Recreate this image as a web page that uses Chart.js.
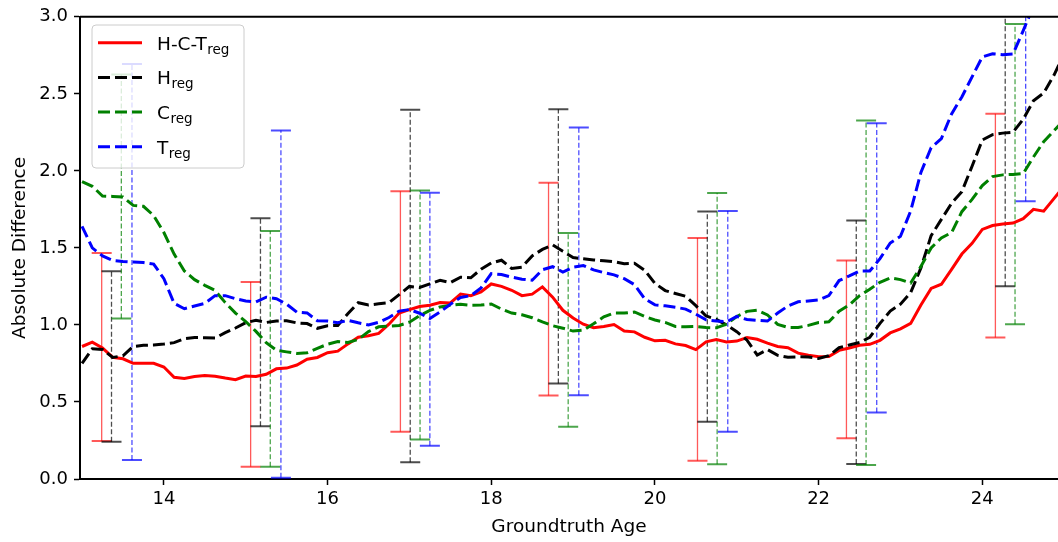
<!DOCTYPE html>
<html lang="en">
  <head>
    <meta charset="UTF-8" />
    <title>Absolute Difference vs Groundtruth Age</title>
    <script src="https://cdn.jsdelivr.net/npm/chart.js"></script>
    <style>
      html, body { margin: 0; padding: 0; background: #fff; }
      canvas { display: block; }
    </style>
  </head>
  <body>
    <canvas id="ageChart" width="1058" height="542"></canvas>
    <script>
      // age grid shared by the four curves
      const ages = [
        13, 13.125, 13.25, 13.375, 13.5, 13.625, 13.75, 13.875,
        14, 14.125, 14.25, 14.375, 14.5, 14.625, 14.75, 14.875,
        15, 15.125, 15.25, 15.375, 15.5, 15.625, 15.75, 15.875,
        16, 16.125, 16.25, 16.375, 16.5, 16.625, 16.75, 16.875,
        17, 17.125, 17.25, 17.375, 17.5, 17.625, 17.75, 17.875,
        18, 18.125, 18.25, 18.375, 18.5, 18.625, 18.75, 18.875,
        19, 19.125, 19.25, 19.375, 19.5, 19.625, 19.75, 19.875,
        20, 20.125, 20.25, 20.375, 20.5, 20.625, 20.75, 20.875,
        21, 21.125, 21.25, 21.375, 21.5, 21.625, 21.75, 21.875,
        22, 22.125, 22.25, 22.375, 22.5, 22.625, 22.75, 22.875,
        23, 23.125, 23.25, 23.375, 23.5, 23.625, 23.75, 23.875,
        24, 24.125, 24.25, 24.375, 24.5, 24.625, 24.75, 24.875, 25
      ];

      const hctReg = [
        0.86, 0.888, 0.85, 0.79, 0.78, 0.751, 0.751, 0.751, 0.727, 0.66,
        0.652, 0.665, 0.672, 0.667, 0.655, 0.645, 0.668, 0.665, 0.68, 0.715,
        0.72, 0.74, 0.777, 0.789, 0.82, 0.83, 0.877, 0.92, 0.93, 0.945,
        1.005, 1.077, 1.099, 1.12, 1.128, 1.145, 1.143, 1.2, 1.19, 1.215,
        1.266, 1.25, 1.225, 1.19, 1.2, 1.247, 1.18, 1.095, 1.045, 1.005,
        0.982, 0.99, 1.003, 0.96, 0.955, 0.92, 0.897, 0.9, 0.877, 0.866,
        0.84, 0.89, 0.905, 0.89, 0.895, 0.918, 0.907, 0.882, 0.86, 0.852,
        0.817, 0.804, 0.793, 0.795, 0.835, 0.85, 0.868, 0.874, 0.9, 0.948,
        0.975, 1.01, 1.13, 1.237, 1.264, 1.36, 1.46, 1.53, 1.62, 1.645,
        1.655, 1.661, 1.69, 1.75, 1.738, 1.82, 1.9
      ];

      const hReg = [
        0.75, 0.845, 0.84, 0.789, 0.8, 0.86, 0.868, 0.87, 0.876, 0.885,
        0.911, 0.918, 0.917, 0.915, 0.95, 0.98, 1.015, 1.03, 1.016, 1.025,
        1.027, 1.013, 1.009, 0.978, 0.995, 0.997, 1.074, 1.144, 1.129, 1.137,
        1.144, 1.197, 1.25, 1.243, 1.267, 1.29, 1.275, 1.31, 1.306, 1.362,
        1.402, 1.42, 1.366, 1.375, 1.448, 1.49, 1.52, 1.478, 1.437, 1.43,
        1.422, 1.417, 1.41, 1.397, 1.4, 1.355, 1.27, 1.223, 1.204, 1.186,
        1.125, 1.058, 1.036, 1.0, 0.956, 0.901, 0.805, 0.84, 0.803, 0.79,
        0.793, 0.792, 0.782, 0.8, 0.852, 0.87, 0.886, 0.92, 1.01, 1.09,
        1.135, 1.21, 1.37, 1.58, 1.685, 1.79, 1.865, 2.03, 2.2, 2.235,
        2.245, 2.251, 2.335, 2.455, 2.505, 2.62, 2.76
      ];

      const cReg = [
        1.93, 1.9, 1.837, 1.834, 1.83, 1.776, 1.77, 1.71, 1.6, 1.46,
        1.35, 1.294, 1.257, 1.224, 1.145, 1.077, 1.022, 0.958, 0.885, 0.836,
        0.825, 0.815, 0.82, 0.848, 0.875, 0.892, 0.886, 0.906, 0.957, 0.988,
        0.992, 0.997, 1.018, 1.06, 1.094, 1.117, 1.128, 1.134, 1.128, 1.129,
        1.136, 1.103, 1.077, 1.066, 1.047, 1.02, 0.995, 0.979, 0.96, 0.966,
        1.007, 1.053, 1.077, 1.077, 1.084, 1.055, 1.032, 1.016, 0.99, 0.988,
        0.99, 0.983, 0.981, 1.005, 1.055, 1.088, 1.095, 1.065, 1.004, 0.984,
        0.983, 0.997, 1.016, 1.02, 1.089, 1.13, 1.19, 1.232, 1.277, 1.305,
        1.294, 1.272, 1.38, 1.5, 1.565, 1.6, 1.735, 1.815, 1.905, 1.963,
        1.974, 1.977, 1.983, 2.09, 2.19, 2.26, 2.33
      ];

      const tReg = [
        1.64, 1.5, 1.448, 1.418, 1.412, 1.408, 1.405, 1.395, 1.3, 1.14,
        1.105, 1.123, 1.14, 1.19, 1.19, 1.17, 1.155, 1.15, 1.18, 1.17,
        1.135, 1.083, 1.078, 1.027, 1.025, 1.014, 1.03, 1.014, 1.0, 1.017,
        1.048, 1.09, 1.1, 1.076, 1.042, 1.084, 1.134, 1.178, 1.19, 1.24,
        1.333, 1.327, 1.31, 1.297, 1.29, 1.358, 1.378, 1.343, 1.375, 1.385,
        1.357, 1.34, 1.325, 1.3, 1.262, 1.17, 1.13, 1.124, 1.115, 1.103,
        1.07, 1.033, 1.026, 1.02, 1.055, 1.035, 1.03, 1.025, 1.077, 1.123,
        1.15, 1.156, 1.162, 1.19, 1.288, 1.318, 1.35, 1.35, 1.43, 1.532,
        1.575, 1.74, 1.99, 2.15, 2.21, 2.37, 2.48, 2.61, 2.74, 2.76,
        2.754, 2.758, 2.91, 3.07, 3.2, 3.32, 3.45
      ];

      // error bars: positions and lower / upper ends for each model
      const hctErrAges = [13.24, 15.06, 16.89, 18.7, 20.52, 22.34, 24.16];
      const hctErrLow = [0.246, 0.08, 0.307, 0.542, 0.119, 0.264, 0.918];
      const hctErrHigh = [1.467, 1.279, 1.867, 1.923, 1.564, 1.419, 2.37];

      const hErrAges = [13.36, 15.18, 17.01, 18.82, 20.64, 22.46, 24.28];
      const hErrLow = [0.242, 0.343, 0.108, 0.62, 0.371, 0.097, 1.251];
      const hErrHigh = [1.348, 1.693, 2.396, 2.4, 1.737, 1.678, 3.25];

      const cErrAges = [13.48, 15.3, 17.13, 18.94, 20.76, 22.58, 24.4];
      const cErrLow = [1.041, 0.08, 0.257, 0.339, 0.095, 0.091, 1.005];
      const cErrHigh = [2.625, 1.609, 1.873, 1.596, 1.856, 2.327, 2.953];

      const tErrAges = [13.61, 15.43, 17.25, 19.07, 20.89, 22.71, 24.53];
      const tErrLow = [0.123, 0.008, 0.216, 0.544, 0.307, 0.432, 1.802];
      const tErrHigh = [2.694, 2.262, 1.858, 2.281, 1.739, 2.309, 4.06];

      const xTicks = [14, 16, 18, 20, 22, 24];
      const yTicks = [0, 0.5, 1, 1.5, 2, 2.5, 3];

      const FONT = "'DejaVu Sans', sans-serif";
      const LINE_DASH = [12, 5];

      const series = [
        { main: "H-C-T", sub: "reg", values: hctReg, color: "#ff0000", dash: [],
          errAges: hctErrAges, errLow: hctErrLow, errHigh: hctErrHigh, errColor: "rgba(255, 0, 0, 0.65)" },
        { main: "H", sub: "reg", values: hReg, color: "#000000", dash: LINE_DASH,
          errAges: hErrAges, errLow: hErrLow, errHigh: hErrHigh, errColor: "rgba(0, 0, 0, 0.7)" },
        { main: "C", sub: "reg", values: cReg, color: "#008000", dash: LINE_DASH,
          errAges: cErrAges, errLow: cErrLow, errHigh: cErrHigh, errColor: "rgba(0, 128, 0, 0.7)" },
        { main: "T", sub: "reg", values: tReg, color: "#0000ff", dash: LINE_DASH,
          errAges: tErrAges, errLow: tErrLow, errHigh: tErrHigh, errColor: "rgba(0, 0, 255, 0.7)" },
      ];

      function strokeLine(ctx, x1, y1, x2, y2) {
        ctx.beginPath();
        ctx.moveTo(x1, y1);
        ctx.lineTo(x2, y2);
        ctx.stroke();
      }

      // vertical error bars with caps, under the curves
      const errorBars = {
        id: "errorBars",
        beforeDatasetsDraw(chart) {
          const { ctx, chartArea, scales } = chart;
          ctx.save();
          ctx.beginPath();
          ctx.rect(chartArea.left, chartArea.top, chartArea.right - chartArea.left, chartArea.bottom - chartArea.top);
          ctx.clip();
          series.forEach((s, si) => {
            s.errAges.forEach((age, i) => {
              const px = scales.x.getPixelForValue(age);
              const lo = scales.y.getPixelForValue(s.errLow[i]);
              const hi = scales.y.getPixelForValue(s.errHigh[i]);
              ctx.strokeStyle = s.errColor;
              ctx.lineWidth = 1.3;
              ctx.setLineDash(si === 0 ? [] : [5, 2.5]);
              strokeLine(ctx, px, lo, px, hi);
              ctx.setLineDash([]);
              ctx.lineWidth = 2;
              strokeLine(ctx, px - 10, lo, px + 10, lo);
              strokeLine(ctx, px - 10, hi, px + 10, hi);
            });
          });
          ctx.restore();
        },
      };

      // top spine and the legend with subscripted labels
      const frameAndLegend = {
        id: "frameAndLegend",
        afterDraw(chart) {
          const { ctx, chartArea } = chart;
          ctx.save();
          ctx.strokeStyle = "#000";
          ctx.lineWidth = 2;
          strokeLine(ctx, chartArea.left, chartArea.top, chartArea.right, chartArea.top);

          const bx = 92, by = 25, bw = 152, bh = 143, r = 4;
          ctx.beginPath();
          ctx.moveTo(bx + r, by);
          ctx.arcTo(bx + bw, by, bx + bw, by + bh, r);
          ctx.arcTo(bx + bw, by + bh, bx, by + bh, r);
          ctx.arcTo(bx, by + bh, bx, by, r);
          ctx.arcTo(bx, by, bx + bw, by, r);
          ctx.closePath();
          ctx.fillStyle = "rgba(255, 255, 255, 0.8)";
          ctx.fill();
          ctx.strokeStyle = "#cccccc";
          ctx.lineWidth = 1;
          ctx.stroke();

          series.forEach((s, i) => {
            const rowY = 42.7 + i * 34.7;
            ctx.strokeStyle = s.color;
            ctx.lineWidth = 3;
            ctx.setLineDash(s.dash);
            strokeLine(ctx, 98, rowY, 142, rowY);
            ctx.setLineDash([]);

            ctx.fillStyle = "#000";
            ctx.textBaseline = "alphabetic";
            ctx.textAlign = "left";
            ctx.font = "18.5px " + FONT;
            ctx.fillText(s.main, 157, rowY + 7);
            const w = ctx.measureText(s.main).width;
            ctx.font = "13.5px " + FONT;
            ctx.fillText(s.sub, 157 + w + 0.5, rowY + 11);
          });
          ctx.restore();
        },
      };

      new Chart(document.getElementById("ageChart"), {
        type: "line",
        data: {
          labels: ages,
          datasets: series.map((s, i) => ({
            label: s.main + s.sub,
            data: ages.map((a, k) => ({ x: a, y: s.values[k] })),
            borderColor: s.color,
            borderWidth: 3,
            borderDash: s.dash,
            borderCapStyle: "butt",
            pointRadius: 0,
            tension: 0,
            fill: false,
            order: series.length - i,
          })),
        },
        options: {
          responsive: false,
          devicePixelRatio: 1,
          animation: false,
          layout: { padding: { top: 16, right: 0, left: 0, bottom: 0 } },
          plugins: {
            legend: { display: false },
            tooltip: { enabled: false },
          },
          scales: {
            x: {
              type: "linear",
              min: 12.975,
              max: 24.925,
              afterBuildTicks: (scale) => {
                scale.ticks = xTicks.map((v) => ({ value: v }));
              },
              afterFit: (scale) => {
                scale.height = 63;
              },
              grid: {
                drawOnChartArea: false,
                drawTicks: true,
                tickLength: 6,
                tickWidth: 1.5,
                tickColor: "#000",
              },
              border: { display: true, color: "#000", width: 2 },
              ticks: {
                color: "#000",
                font: { family: FONT, size: 18 },
                padding: 4,
                maxRotation: 0,
                callback: (v) => String(v),
              },
              title: {
                display: true,
                text: "Groundtruth Age",
                color: "#000",
                font: { family: FONT, size: 18.5 },
                padding: { top: 0, bottom: 4 },
              },
            },
            y: {
              type: "linear",
              min: 0,
              max: 3,
              afterBuildTicks: (scale) => {
                scale.ticks = yTicks.map((v) => ({ value: v }));
              },
              afterFit: (scale) => {
                scale.width = 80;
              },
              grid: {
                drawOnChartArea: false,
                drawTicks: true,
                tickLength: 6,
                tickWidth: 1.5,
                tickColor: "#000",
              },
              border: { display: true, color: "#000", width: 2 },
              ticks: {
                color: "#000",
                font: { family: FONT, size: 18 },
                padding: 6,
                callback: (v) => Number(v).toFixed(1),
              },
              title: {
                display: true,
                text: "Absolute Difference",
                color: "#000",
                font: { family: FONT, size: 18.5 },
                padding: { top: 9, bottom: 0 },
              },
            },
          },
        },
        plugins: [errorBars, frameAndLegend],
      });
    </script>
  </body>
</html>
